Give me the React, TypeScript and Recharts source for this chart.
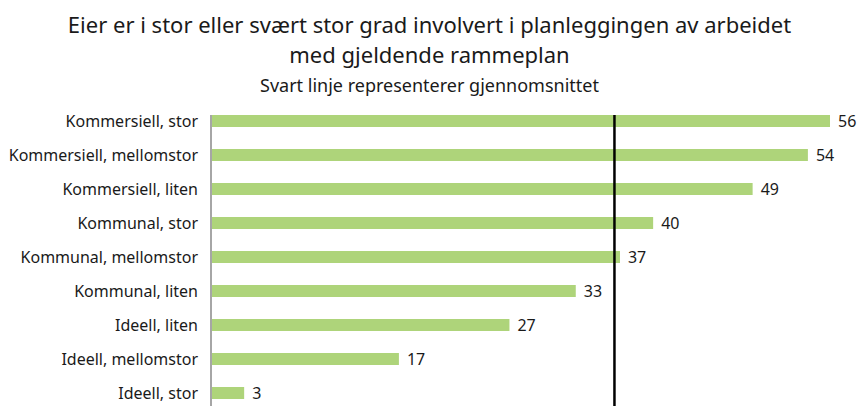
import React from "react";
import {
  BarChart,
  Bar,
  XAxis,
  YAxis,
  ReferenceLine,
  LabelList,
} from "recharts";

const categories = [
  "Kommersiell, stor",
  "Kommersiell, mellomstor",
  "Kommersiell, liten",
  "Kommunal, stor",
  "Kommunal, mellomstor",
  "Kommunal, liten",
  "Ideell, liten",
  "Ideell, mellomstor",
  "Ideell, stor",
];
const values = [56, 54, 49, 40, 37, 33, 27, 17, 3];
const average = 36.5;

const data = categories.map((name, i) => ({ name, value: values[i] }));

const FONT = "'Noto Sans', sans-serif";

// vertical line that starts a little below the top of the plot, like the original
const trimmedLine = (color: string, width: number) => (props: any) => {
  const top = Math.min(props.y1, props.y2) + 11;
  const bottom = Math.max(props.y1, props.y2);
  return (
    <line
      x1={props.x1}
      x2={props.x2}
      y1={top}
      y2={bottom}
      stroke={color}
      strokeWidth={width}
    />
  );
};

const App = () => {
  return (
    <div
      style={{
        position: "absolute",
        left: 0,
        top: 0,
        width: 859,
        height: 406,
        overflow: "hidden",
        background: "#fff",
        fontFamily: FONT,
        color: "#1a1a1a",
      }}
    >
      <div
        style={{
          position: "absolute",
          top: 9,
          left: 0,
          width: 859,
          textAlign: "center",
          fontSize: 22,
          lineHeight: "30px",
        }}
      >
        Eier er i stor eller svært stor grad involvert i planleggingen av arbeidet
        <br />
        med gjeldende rammeplan
      </div>
      <div
        style={{
          position: "absolute",
          top: 72,
          left: 0,
          width: 859,
          textAlign: "center",
          fontSize: 18,
          lineHeight: "26px",
        }}
      >
        Svart linje representerer gjennomsnittet
      </div>
      <BarChart
        width={859}
        height={410}
        data={data}
        layout="vertical"
        margin={{ top: 104, right: 29, left: 0, bottom: 0 }}
        barSize={12}
      >
        <XAxis type="number" domain={[0, 56]} hide />
        <YAxis
          type="category"
          dataKey="name"
          width={211}
          axisLine={false}
          tickLine={false}
          tickSize={0}
          tickMargin={13}
          interval={0}
          tick={{ fill: "#1a1a1a", fontSize: 16, fontFamily: FONT }}
        />
        <Bar dataKey="value" fill="#aed47a" isAnimationActive={false}>
          <LabelList
            dataKey="value"
            position="right"
            offset={8}
            fill="#1a1a1a"
            fontSize={16}
            fontFamily={FONT}
          />
        </Bar>
        <ReferenceLine x={0} shape={trimmedLine("#a6a6a6", 2)} />
        <ReferenceLine x={average} shape={trimmedLine("#000", 2.5)} />
      </BarChart>
    </div>
  );
};

export default App;
